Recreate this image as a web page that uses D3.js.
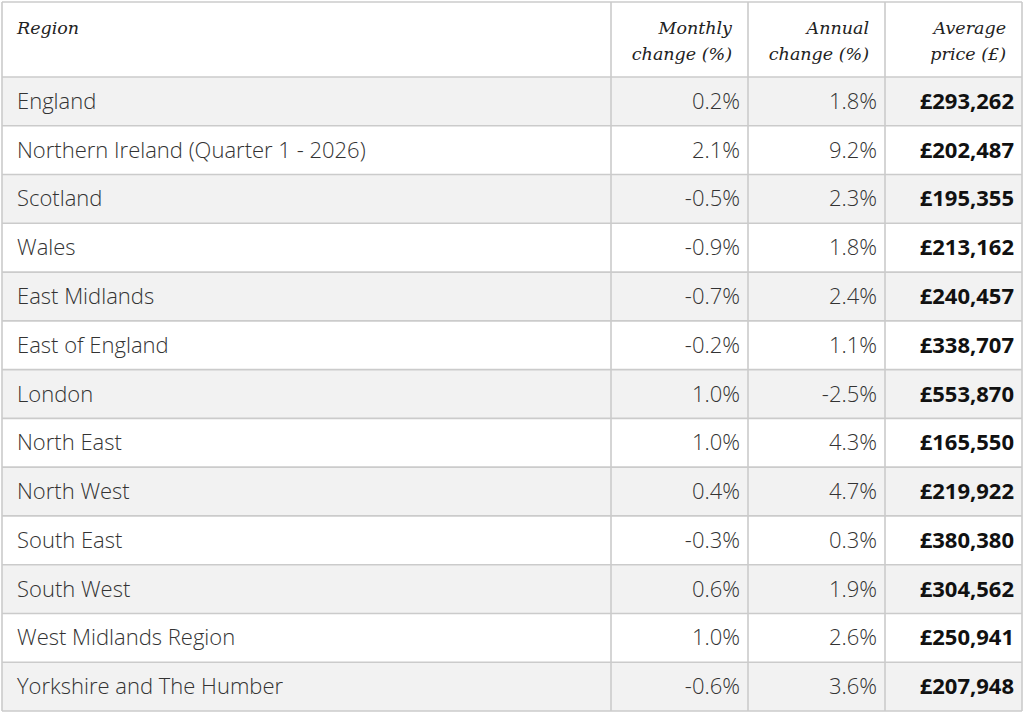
<!DOCTYPE html>
<html>
<head>
<meta charset="utf-8">
<script src="https://cdn.jsdelivr.net/npm/d3@7"></script>
<style>
  body { margin: 0; background: #fff; }
</style>
</head>
<body>
<div id="vizcontainer"></div>
<script>
const width = 1024,
  height = 713;

// table content
const regions = ['England', 'Northern Ireland (Quarter 1 - 2026)', 'Scotland', 'Wales', 'East Midlands',
  'East of England', 'London', 'North East', 'North West', 'South East', 'South West',
  'West Midlands Region', 'Yorkshire and The Humber'];
const monthly = [0.2, 2.1, -0.5, -0.9, -0.7, -0.2, 1.0, 1.0, 0.4, -0.3, 0.6, 1.0, -0.6];
const annual = [1.8, 9.2, 2.3, 1.8, 2.4, 1.1, -2.5, 4.3, 4.7, 0.3, 1.9, 2.6, 3.6];
const price = [293262, 202487, 195355, 213162, 240457, 338707, 553870, 165550, 219922, 380380, 304562, 250941, 207948];
const headers = [['Region'], ['Monthly', 'change (%)'], ['Annual', 'change (%)'], ['Average', 'price (£)']];

const tblLeft = 2, tblRight = 1022, tblTop = 2, headBottom = 77, tblBottom = 711;
const colEdges = [tblLeft, 611, 748, 885, tblRight];

let viz = d3.select('#vizcontainer')
  .append('svg')
  .attr('width', width)
  .attr('height', height);

const y = d3.scaleBand()
  .domain(d3.range(regions.length))
  .range([headBottom, tblBottom])
  .paddingInner(0);

// plain hyphen for negatives, like the source table
const loc = d3.formatLocale({ decimal: '.', thousands: ',', grouping: [3], currency: ['£', ''], minus: '-' });
const pct = d => loc.format('.1f')(d) + '%';
const gbp = d => loc.format('$,')(d);

// row stripes
viz.append('g')
  .selectAll('rect')
  .data(regions)
  .join('rect')
  .attr('x', tblLeft)
  .attr('y', (d, i) => y(i))
  .attr('width', tblRight - tblLeft)
  .attr('height', y.bandwidth())
  .attr('fill', (d, i) => i % 2 === 0 ? '#f2f2f2' : '#fff');

// grid lines
const grid = viz.append('g')
  .attr('stroke', '#cbcbcb')
  .attr('stroke-width', 1.6);

grid.selectAll('.h')
  .data([tblTop].concat(regions.map((d, i) => y(i)), [tblBottom]))
  .join('line')
  .attr('class', 'h')
  .attr('x1', tblLeft).attr('x2', tblRight)
  .attr('y1', d => d).attr('y2', d => d);

grid.selectAll('.v')
  .data(colEdges)
  .join('line')
  .attr('class', 'v')
  .attr('x1', d => d).attr('x2', d => d)
  .attr('y1', tblTop).attr('y2', tblBottom);

// header
const head = viz.append('g')
  .style('font-family', '"DejaVu Serif", serif')
  .style('font-style', 'italic')
  .style('font-size', '17.5px')
  .attr('fill', '#222');

headers.forEach((lines, c) => {
  const hx = c === 0 ? 17 : colEdges[c + 1] - 16;
  const t = head.append('text')
    .attr('text-anchor', c === 0 ? 'start' : 'end');
  lines.forEach((l, k) => {
    t.append('tspan')
      .attr('x', hx)
      .attr('y', 34 + k * 26)
      .text(l);
  });
});

// body
const body = viz.append('g')
  .style('font-family', '"Open Sans", sans-serif')
  .style('font-size', '22px');

const rows = body.selectAll('g.row')
  .data(regions)
  .join('g')
  .attr('class', 'row')
  .attr('transform', (d, i) => `translate(0,${y(i) + y.bandwidth() / 2 + 7.5})`);

rows.append('text')
  .attr('x', 17)
  .attr('fill', '#333')
  .style('font-weight', 300)
  .text(d => d);

rows.append('text')
  .attr('x', colEdges[2] - 8)
  .attr('text-anchor', 'end')
  .attr('fill', '#333')
  .style('font-weight', 300)
  .text((d, i) => pct(monthly[i]));

rows.append('text')
  .attr('x', colEdges[3] - 8)
  .attr('text-anchor', 'end')
  .attr('fill', '#333')
  .style('font-weight', 300)
  .text((d, i) => pct(annual[i]));

rows.append('text')
  .attr('x', colEdges[4] - 8)
  .attr('text-anchor', 'end')
  .attr('fill', '#111')
  .style('font-weight', 'bold')
  .text((d, i) => gbp(price[i]));
</script>
</body>
</html>
